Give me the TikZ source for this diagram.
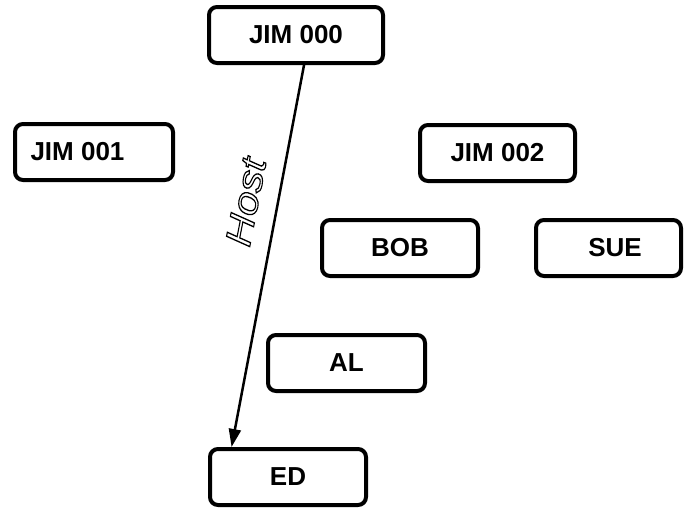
\documentclass[tikz,border=0pt]{standalone}
\usepackage{fontspec}
\setmainfont{Liberation Sans}
\usetikzlibrary{arrows.meta}
% hollow (stroked, unfilled) glyphs
\newcommand{\hollowtext}[1]{\special{pdf:literal direct 1 Tr 1.1 w}#1\special{pdf:literal direct 0 Tr}}
\tikzset{
  person/.style={draw, line width=4pt, rounded corners=8pt, fill=white,
    minimum height=56pt, inner sep=0pt,
    font=\bfseries\fontsize{26}{28}\selectfont},
  link/.style={line width=2.5pt, -{Triangle[length=18pt,width=12pt]}},
  rolelabel/.style={font=\itshape\fontsize{36}{38}\selectfont, inner sep=0pt}
}
\begin{document}
\begin{tikzpicture}[x=1pt, y=-1pt]
\useasboundingbox (0,0) rectangle (689,512);
\node[person, minimum width=174pt] (jim000) at (296,35) {JIM 000};
\node[person, minimum width=158pt] (jim001) at (94,152) {JIM 001\kern33pt};
\node[person, minimum width=155pt] (jim002) at (497.5,153) {JIM 002};
\node[person, minimum width=156pt] (bob) at (400,248) {BOB};
\node[person, minimum width=145pt] (sue) at (608.5,248) {\kern13pt SUE};
\node[person, minimum width=157pt] (al) at (346.5,363) {AL};
\node[person, minimum width=156pt] (ed) at (288,477) {ED};
\draw[link] (jim000.-75) -- (ed.152.6);
\node[rolelabel, rotate=79, xscale=1.2] (host) at (246,202) {\hollowtext{Host}};
\end{tikzpicture}
\end{document}
